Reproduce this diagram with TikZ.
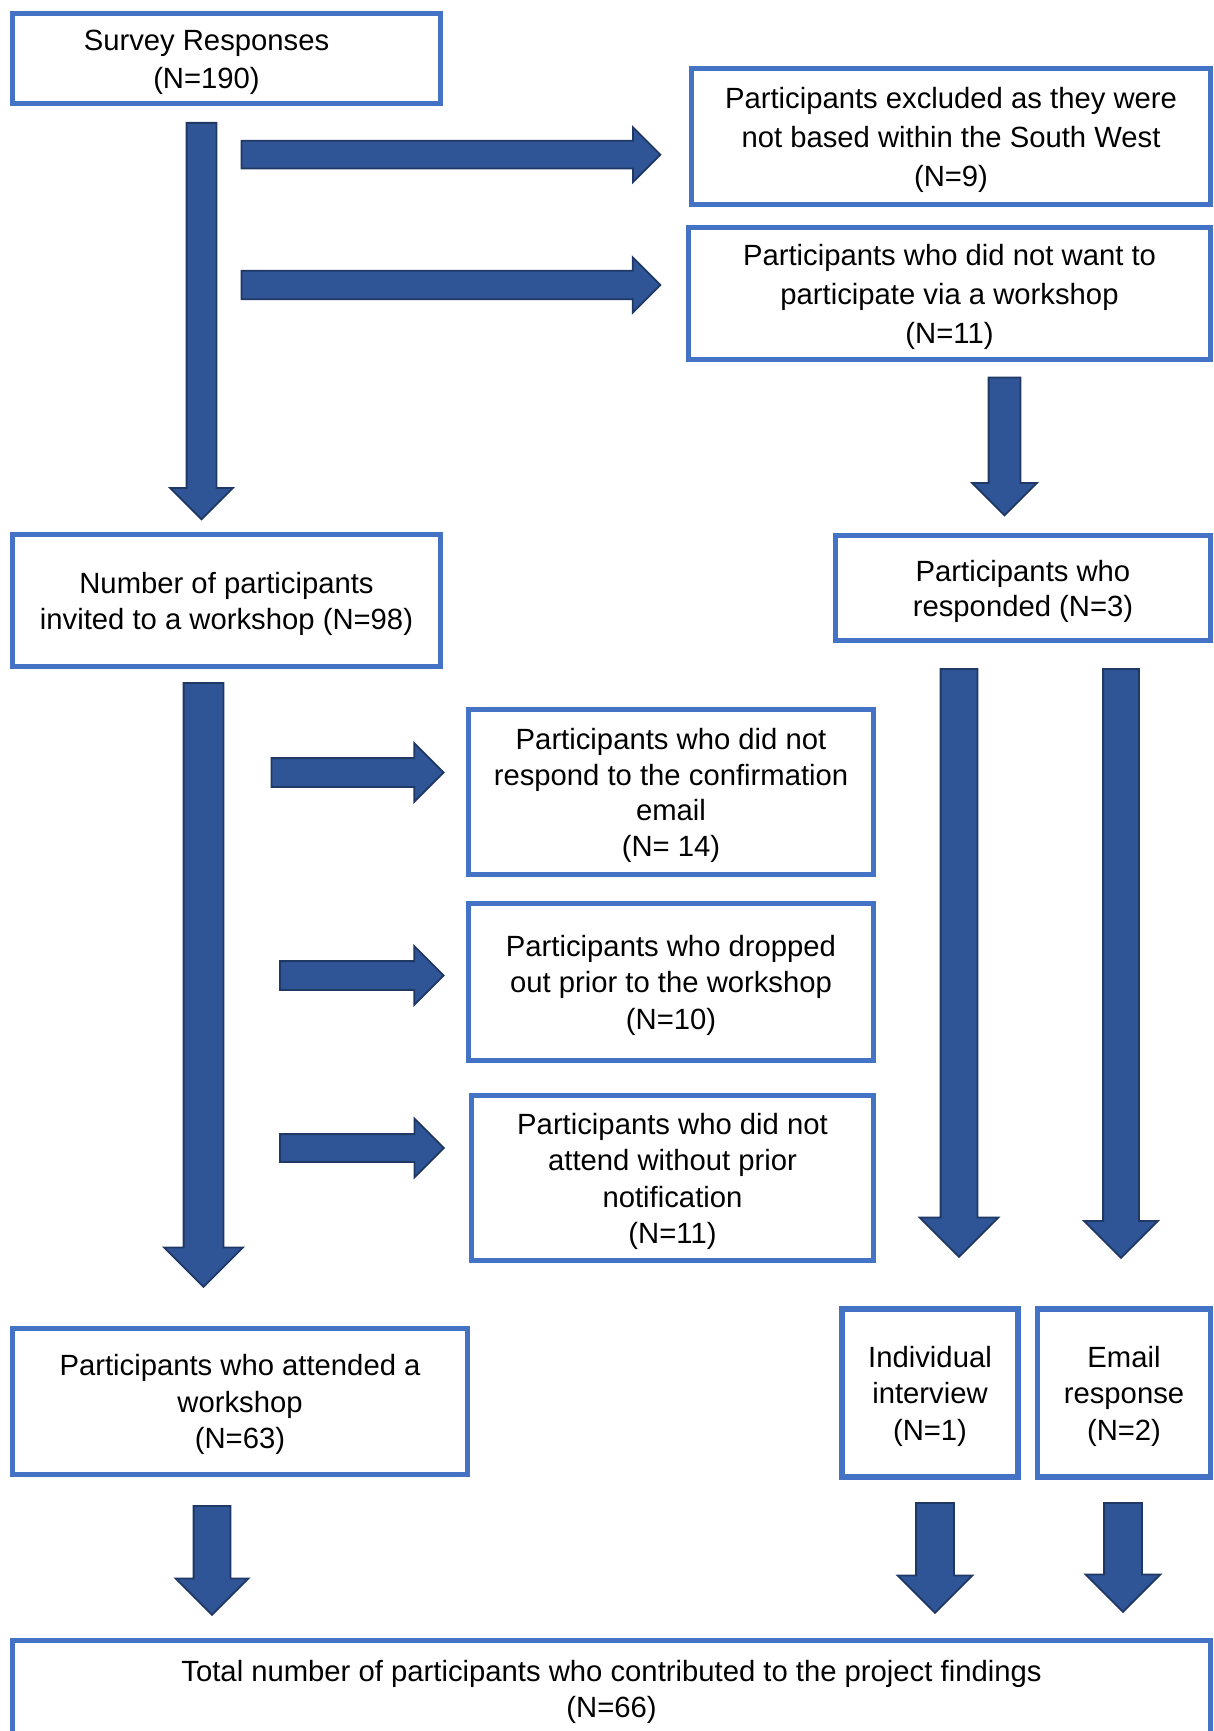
\documentclass[tikz,border=0pt]{standalone}
\usepackage{fontspec}
\setmainfont{Liberation Sans}
\usetikzlibrary{shapes.arrows}
\definecolor{boxblue}{HTML}{4472C4}
\definecolor{arrowfill}{HTML}{2F5597}
\definecolor{arrowline}{HTML}{1F3864}
\newcommand{\tl}{\rule{0pt}{28pt}}% top of first line

\begin{document}
\begin{tikzpicture}[x=1pt,y=-1pt,
  stage/.style={draw=boxblue,line width=5.5pt,align=center,inner sep=0pt,
    font=\fontsize{29.25}{36.5}\selectfont},
  wide/.style={font=\fontsize{29.25}{38.7}\selectfont},
  tight/.style={font=\fontsize{29.25}{35.5}\selectfont},
  blockarrow/.style={single arrow,fill=arrowfill,draw=arrowline,line width=1.8pt,
    inner xsep=0pt,single arrow head indent=0pt,single arrow tip angle=90,anchor=tail}]
\useasboundingbox (0,0) rectangle (1213,1731);

% boxes
\node[stage,wide,minimum width=428,minimum height=90] (survey) at (226.5,58.5)
  {\tl Survey Responses\hspace*{40pt}\\(N=190)\hspace*{40pt}};
\node[stage,wide,minimum width=519,minimum height=136] (excluded) at (951,136.5)
  {\tl Participants excluded as they were\\not based within the South West\\(N=9)};
\node[stage,wide,minimum width=522,minimum height=132] (nowant) at (949.5,293.5)
  {\tl Participants who did not want to\\participate via a workshop\\(N=11)};
\node[stage,tight,minimum width=375,minimum height=105] (responded) at (1023,588)
  {\tl Participants who\\responded (N=3)};
\node[stage,minimum width=428,minimum height=132] (invited) at (226.5,600.5)
  {\tl Number of participants\\invited to a workshop (N=98)};
\node[stage,tight,minimum width=405,minimum height=165] (noconfirm) at (671,792)
  {\tl Participants who did not\\respond to the confirmation\\email\\(N= 14)};
\node[stage,minimum width=405,minimum height=157] (dropped) at (671,982)
  {\tl Participants who dropped\\out prior to the workshop\\(N=10)};
\node[stage,minimum width=402,minimum height=165] (noshow) at (672.5,1178)
  {\tl Participants who did not\\attend without prior\\notification\\(N=11)};
\node[stage,minimum width=455,minimum height=146] (attended) at (240,1401.5)
  {\tl Participants who attended a\\workshop\\(N=63)};
\node[stage,minimum width=176,minimum height=168] (interview) at (930,1393)
  {\tl Individual\\interview\\(N=1)};
\node[stage,minimum width=173,minimum height=168] (email) at (1124,1393)
  {\tl Email\\response\\(N=2)};
\node[stage,minimum width=1198,minimum height=96] (total) at (611.5,1688.5)
  {\tl Total number of participants who contributed to the project findings\\(N=66)};

% down arrows: name/x/top/length/shaft/head
\foreach \nm/\x/\ytop/\len/\sw/\hw in {down1/201.5/122/396.5/14/30.5,
    down2/1004.5/376.5/138/15/31.5, down3/203.5/682/604/19/38.5,
    down4/959/668/588/17.5/38.5, down5/1121/668/589/17/36,
    down6/212/1505/109/17.5/35.5, down7/935/1502/110/18/36.5,
    down8/1123/1502/109/18/36.5}
  { \node[blockarrow,rotate=-90,minimum height=\len,inner ysep=\sw,
      single arrow head extend=\hw-\sw] (\nm) at (\x,\ytop) {};}

% right arrows: name/y/start/length/shaft/head
\foreach \nm/\y/\xs/\len/\sw/\hw in {right1/154.7/240.5/419/13/26.5,
    right2/285/240.5/419/13.3/26.8, right3/772.5/270.5/172.3/13.5/28.5,
    right4/975.5/279/163.8/13.5/28.5, right5/1148/279/164/13/28.5}
  { \node[blockarrow,minimum height=\len,inner ysep=\sw,
      single arrow head extend=\hw-\sw] (\nm) at (\xs,\y) {};}
\end{tikzpicture}
\end{document}
